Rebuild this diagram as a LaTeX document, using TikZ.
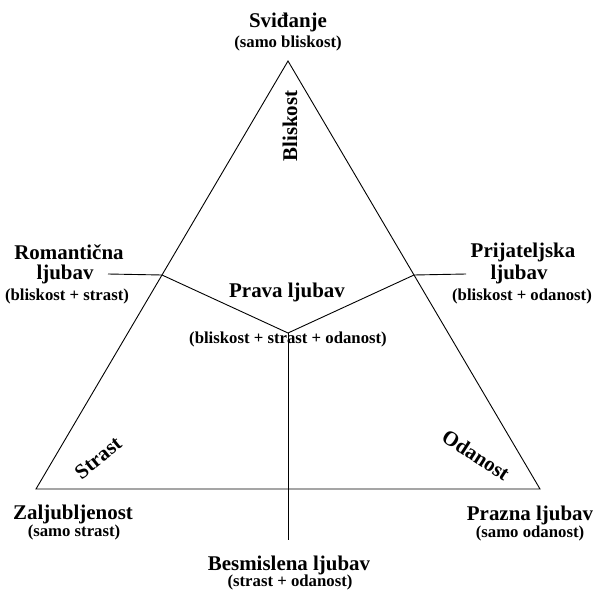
\documentclass[tikz,border=0pt]{standalone}
\usepackage{fontspec}
\setmainfont{Liberation Serif}
\usepackage{tikz}
\usetikzlibrary{calc}

\tikzset{
  big/.style={font=\fontsize{21pt}{23pt}\selectfont\bfseries, inner sep=0pt},
  small/.style={font=\fontsize{16.8pt}{19pt}\selectfont\bfseries, inner sep=0pt},
  edge/.style={line width=0.9bp}
}

\begin{document}
\begin{tikzpicture}[x=1bp, y=-1bp]
      \useasboundingbox (0,0) rectangle (595,595);

      \coordinate (top)   at (288,61);
      \coordinate (left)  at (36,489);
      \coordinate (right) at (540,489);
      \coordinate (lmid)  at ($(top)!0.5!(left)$);
      \coordinate (rmid)  at ($(top)!0.5!(right)$);
      \coordinate (center) at (288,333);
      \coordinate (lend)  at (108,274);
      \coordinate (rend)  at (466,274);
      \coordinate (bend)  at (288,540);

      \draw[edge] (top) -- (left) -- (right) -- cycle;
      \draw[edge] (lmid) -- (center) -- (rmid);
      \draw[edge] (center) -- (bend);
      \draw[edge] (lend) -- (lmid);
      \draw[edge] (rmid) -- (rend);

      \node[big]   (svidjanje)  at (288,22)  {Sviđanje};
      \node[small] (svidjanje2) at (288,43)  {(samo bliskost)};

      \node[big, rotate=90]  (bliskost) at (290,126) {Bliskost};
      \node[big, rotate=39]  (strast)   at (98,458)  {Strast};
      \node[big, rotate=-33] (odanost)  at (476,455) {Odanost};

      \node[big]   (romanticna)  at (69,252)  {Romantična};
      \node[big]   (romanticna2) at (65,274)  {ljubav};
      \node[small] (romanticna3) at (67,296)  {(bliskost + strast)};

      \node[big]   (prijateljska)  at (523,252) {Prijateljska};
      \node[big]   (prijateljska2) at (519,274) {ljubav};
      \node[small] (prijateljska3) at (522,296) {(bliskost + odanost)};

      \node[big]   (prava)  at (287,292) {Prava ljubav};
      \node[small] (prava2) at (288,339) {(bliskost + strast + odanost)};

      \node[big]   (zaljubljenost)  at (73,514)  {Zaljubljenost};
      \node[small] (zaljubljenost2) at (74,532)  {(samo strast)};

      \node[big]   (prazna)  at (530,515) {Prazna ljubav};
      \node[small] (prazna2) at (530,533) {(samo odanost)};

      \node[big]   (besmislena)  at (289,565) {Besmislena ljubav};
      \node[small] (besmislena2) at (290,582) {(strast + odanost)};

    \end{tikzpicture}
\end{document}
